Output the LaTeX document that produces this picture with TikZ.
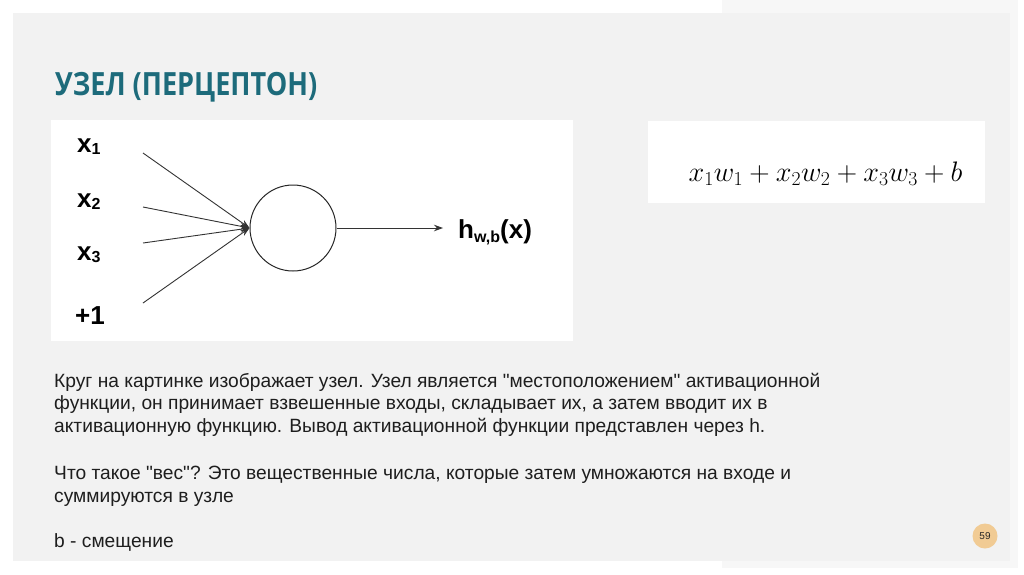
\RequirePackage{fix-cm}
\documentclass[tikz,border=0pt]{standalone}
\usepackage[no-math]{fontspec}
\setmainfont{Liberation Sans}[Ligatures=TeXOff]
\newfontfamily\titlefont{Open Sans}
\usepackage{graphicx}
\usetikzlibrary{arrows.meta}
\definecolor{panelgray}{HTML}{F2F2F2}
\definecolor{stripgray}{HTML}{F7F7F7}
\definecolor{titleteal}{HTML}{1D6B7B}
\definecolor{badge}{HTML}{F1CB94}
\definecolor{linegray}{HTML}{333333}
\definecolor{bodytext}{HTML}{1E1E1E}
\begin{document}
\begin{tikzpicture}[x=1pt,y=-1pt,
  lbl/.style={anchor=base west, inner sep=0, font=\fontsize{26}{26}\selectfont\bfseries},
  body/.style={anchor=base west, inner sep=0, text=bodytext, font=\fontsize{19.2}{22}\selectfont},
  inarrow/.style={draw=linegray, line width=0.9pt, -{Stealth[length=9pt,width=6.5pt]}},
  outarrow/.style={draw=linegray, line width=0.9pt, -{Stealth[length=9pt,width=6.5pt]}},
]
\useasboundingbox (0,0) rectangle (1024,574);
\fill[white] (0,0) rectangle (1024,574);
\fill[stripgray] (722,0) rectangle (1018,568);
\fill[panelgray] (13,13) rectangle (1010,561);

% title
\node[anchor=base west, inner sep=0, text=titleteal] (title) at (55,95)
  {\resizebox{262pt}{\height}{\titlefont\bfseries\fontsize{32}{32}\selectfont УЗЕЛ (ПЕРЦЕПТОН)}};

% diagram panel
\fill[white] (51,120) rectangle (573,341);
\node[lbl] (x1) at (77,152) {x\raisebox{-2pt}{\fontsize{16}{16}\selectfont 1}};
\node[lbl] (x2) at (77,207) {x\raisebox{-2pt}{\fontsize{16}{16}\selectfont 2}};
\node[lbl] (x3) at (77,260) {x\raisebox{-2pt}{\fontsize{16}{16}\selectfont 3}};
\node[lbl] (p1) at (75,324) {+1};
\node[circle, draw=black!85, line width=1pt, minimum size=86pt, inner sep=0] (neuron) at (293,228) {};
\coordinate (s1) at (143,153);
\coordinate (s2) at (143,207);
\coordinate (s3) at (143,243);
\coordinate (s4) at (143,303);
\draw[inarrow] (s1) -- (neuron.west);
\draw[inarrow] (s2) -- (neuron.west);
\draw[inarrow] (s3) -- (neuron.west);
\draw[inarrow] (s4) -- (neuron.west);
\node[lbl, font=\fontsize{26}{26}\selectfont\bfseries] (h) at (458,238)
  {h\raisebox{-4pt}{\fontsize{16}{16}\selectfont w,b}(x)};
\coordinate (hin) at (443,228);
\draw[outarrow] (neuron.east) -- (hin);

% formula panel
\fill[white] (648,121) rectangle (985,203);
\node[anchor=base, inner sep=0, font=\fontsize{28.2}{28.2}\selectfont] (formula) at (825.5,181)
  {$x_1w_1+x_2w_2+x_3w_3+b$};

% body text
\node[body] (t1) at (54,387) {Круг на картинке изображает узел. Узел является "местоположением" активационной};
\node[body] (t2) at (54,409.5) {функции, он принимает взвешенные входы, складывает их, а затем вводит их в};
\node[body] (t3) at (54,432) {активационную функцию. Вывод активационной функции представлен через h.};
\node[body] (t4) at (54,479) {Что такое "вес"? Это вещественные числа, которые затем умножаются на входе и};
\node[body] (t5) at (54,502) {суммируются в узле};
\node[body] (t6) at (54,547) {b - смещение};

% page number
\node[circle, fill=badge, minimum size=25pt, inner sep=0, text=black!85,
  font=\fontsize{10}{10}\selectfont] (pg) at (985,536) {59};
\end{tikzpicture}
\end{document}
